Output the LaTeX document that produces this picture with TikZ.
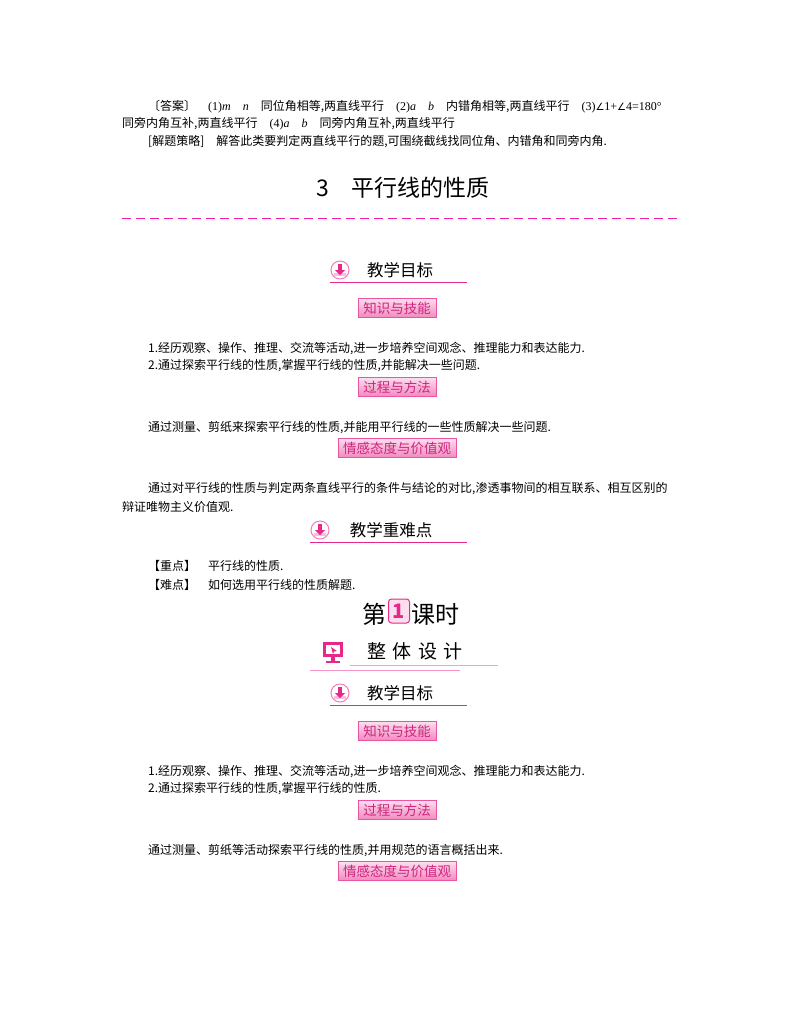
\documentclass[tikz,border=0pt]{standalone}
\usepackage{fontspec}
\setmainfont{Noto Sans CJK SC}
\newfontfamily\serf{Liberation Serif}
\newfontfamily\dvs{DejaVu Sans}
\definecolor{mag}{RGB}{230,40,140}
\definecolor{pinkl}{RGB}{250,190,220}
\tikzset{
 x=1pt,y=-1pt,
 txt/.style={anchor=west,inner sep=0pt,font=\fontsize{12}{14}\selectfont},
 badge/.style={draw=mag!80,top color=pinkl!50,bottom color=mag!55,text=mag!90!black,inner xsep=5pt,inner ysep=2pt,font=\fontsize{13.5}{14}\selectfont,minimum height=19pt},
 head/.style={inner sep=0pt,font=\fontsize{16.5}{18}\selectfont},
}
\newcommand{\headicon}[2]{%
 \draw[mag!60,line width=1pt,fill=white] (#1,#2) circle (9);
 \fill[pinkl] (#1-6,#2+3) rectangle (#1+6,#2+6);
 \fill[mag] (#1-2,#2-6) rectangle (#1+2,#2);
 \fill[mag] (#1-5,#2) -- (#1+5,#2) -- (#1,#2+5) -- cycle;}
\begin{document}
\begin{tikzpicture}
\useasboundingbox[fill=white] (0,0) rectangle (800,1028);
\node[txt] (l1) at (148,107) {〔答案〕\quad {\serf(1)\textit{m}\quad\textit{n}}\quad 同位角相等,两直线平行\quad {\serf(2)\textit{a}\quad\textit{b}}\quad 内错角相等,两直线平行\quad {\serf(3){\dvs\fontsize{10}{12}\selectfont∠}1+{\dvs\fontsize{10}{12}\selectfont∠}4=180°}};
\node[txt] (l2) at (122,124) {同旁内角互补,两直线平行\quad {\serf(4)\textit{a}\quad\textit{b}}\quad 同旁内角互补,两直线平行};
\node[txt] (l3) at (148,142) {[解题策略]\quad 解答此类要判定两直线平行的题,可围绕截线找同位角、内错角和同旁内角.};
\node[font=\fontsize{23}{25}\selectfont] (title) at (403,188) {3\quad 平行线的性质};
\draw[mag!70!magenta,line width=1pt,dash pattern=on 9pt off 5pt] (122,218) -- (678,218);
% block 1
\headicon{340}{270}
\node[head] (h1) at (400,270) {教学目标};
\draw[mag,line width=0.8pt] (330,282) -- (467,282);
\node[badge] (b1) at (397,308) {知识与技能};
\node[txt] (t1) at (148,348) {1.经历观察、操作、推理、交流等活动,进一步培养空间观念、推理能力和表达能力.};
\node[txt] (t2) at (148,366) {2.通过探索平行线的性质,掌握平行线的性质,并能解决一些问题.};
\node[badge] (b2) at (397,387) {过程与方法};
\node[txt] (t3) at (148,428) {通过测量、剪纸来探索平行线的性质,并能用平行线的一些性质解决一些问题.};
\node[badge] (b3) at (397,448) {情感态度与价值观};
\node[txt] (t4) at (148,489) {通过对平行线的性质与判定两条直线平行的条件与结论的对比,渗透事物间的相互联系、相互区别的};
\node[txt] (t5) at (122,507) {辩证唯物主义价值观.};
\headicon{320}{530}
\node[head] (h2) at (391,530) {教学重难点};
\draw[mag,line width=0.8pt] (310,542) -- (467,542);
\node[txt] (t6) at (148,566) {【重点】\quad 平行线的性质.};
\node[txt] (t7) at (148,585) {【难点】\quad 如何选用平行线的性质解题.};
% lesson
\node[font=\fontsize{24}{26}\selectfont,anchor=east,inner sep=1pt] (k1) at (388,614) {第};
\node[draw=mag,line width=1pt,rounded corners=3pt,fill=pinkl!50,text=mag,font=\fontsize{20}{20}\selectfont\bfseries,minimum width=21pt,minimum height=24pt,inner sep=0pt] (k2) at (399,611) {1};
\node[font=\fontsize{24}{26}\selectfont,anchor=west,inner sep=1pt] (k3) at (410,614) {课时};
\fill[mag] (323,642) rectangle (343,657);
\fill[white] (326,645) rectangle (340,654);
\fill[mag] (331,657) rectangle (335,661);
\fill[mag] (326,661) rectangle (340,663);
\fill[mag] (331,647) -- (337,651) -- (334,651.5) -- (333,654) -- cycle;
\node[font=\fontsize{19}{20}\selectfont] (zt) at (415,651) {整\,\,体\,\,设\,\,计};
\draw[gray!50,line width=0.8pt] (350,665) -- (498,665);
\draw[mag!50,line width=0.8pt] (310,670) -- (460,670);
% block 2
\headicon{340}{693}
\node[head] (h3) at (400,693) {教学目标};
\draw[mag,line width=0.8pt] (330,705) -- (467,705);
\node[badge] (b4) at (397,731) {知识与技能};
\node[txt] (t8) at (148,771) {1.经历观察、操作、推理、交流等活动,进一步培养空间观念、推理能力和表达能力.};
\node[txt] (t9) at (148,789) {2.通过探索平行线的性质,掌握平行线的性质.};
\node[badge] (b5) at (397,810) {过程与方法};
\node[txt] (t10) at (148,851) {通过测量、剪纸等活动探索平行线的性质,并用规范的语言概括出来.};
\node[badge] (b6) at (397,871) {情感态度与价值观};
\end{tikzpicture}
\end{document}
